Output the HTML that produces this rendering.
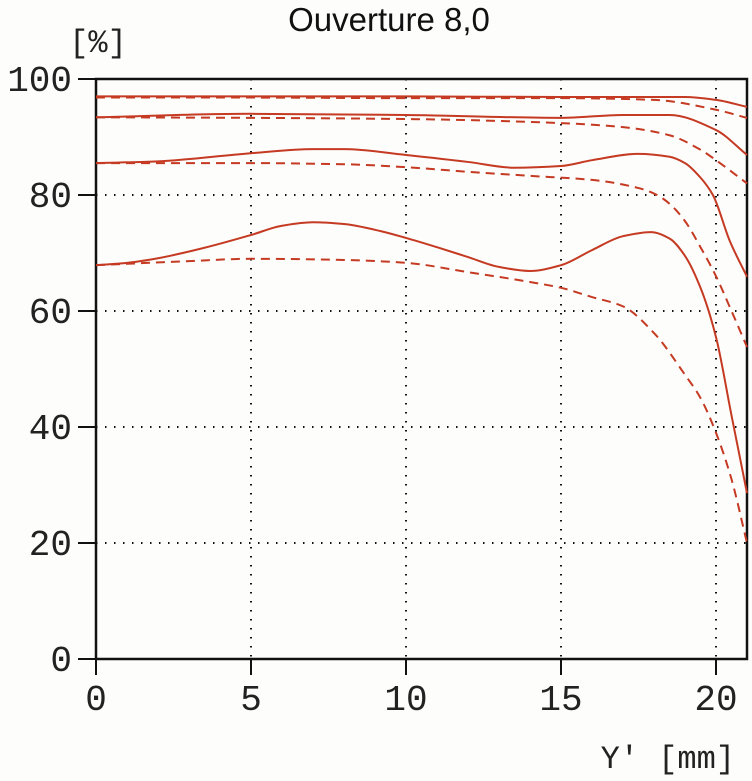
<!DOCTYPE html>
<html><head><meta charset="utf-8"><style>
html,body{margin:0;padding:0;background:#fdfdfb;}
svg{display:block;}
</style></head><body>
<svg id="chart" width="752" height="781" viewBox="0 0 752 781" xmlns="http://www.w3.org/2000/svg">
<rect width="752" height="781" fill="#fdfdfb"/>
<text x="389" y="31" text-anchor="middle" font-family="Liberation Sans, sans-serif" font-size="33" fill="#111">Ouverture 8,0</text>
<text x="98" y="52" text-anchor="middle" font-family="Liberation Mono, monospace" font-size="32" fill="#222">[%]</text>
<text x="735" y="768" text-anchor="end" font-family="Liberation Mono, monospace" font-size="32" fill="#222">Y' [mm]</text>
<g id="grid"></g><g id="axes"></g><g id="series"></g>
</svg>
<script>
const xTicks=[0,5,10,15,20];
const yTicks=[0,20,40,60,80,100];
const s1X=[0,5,10,15,19,20,21];
const s1Y=[97.0,97.0,97.0,96.9,96.9,96.4,95.2];
const d1X=[0,5,10,15,18,20,21];
const d1Y=[96.8,96.8,96.7,96.7,96.4,94.7,93.3];
const s2X=[0,5,10,15,17,18.5,20,21];
const s2Y=[93.4,94.0,93.8,93.3,93.8,93.8,91.2,86.9];
const d2X=[0,5,10,15,17,18.5,19.5,20,21];
const d2Y=[93.4,93.3,93.1,92.4,91.7,90.3,87.8,86.0,82.0];
const s3X=[0,2,5,7,8,10,12,13.5,15,16,17.5,18.5,19,19.5,19.9,20.45,21];
const s3Y=[85.5,85.8,87.2,87.9,87.9,86.9,85.7,84.7,85.0,86.0,87.1,86.6,85.5,83.0,80.0,72.0,65.9];
const d3X=[0,5,8,10,12,14,16,17.5,18.1,18.5,19,19.5,20,20.5,21];
const d3Y=[85.5,85.5,85.3,84.8,84.0,83.3,82.6,81.2,80.0,78.5,75.5,71.0,66.0,60.0,53.8];
const s4X=[0,1,2,3.5,5,6,7,8,9,10,11,12,13,14,15,16,17,17.9,18.5,19,19.5,20,20.5,21];
const s4Y=[67.9,68.3,69.1,70.9,73.1,74.7,75.3,75.0,74.0,72.6,71.0,69.3,67.6,66.9,67.9,70.5,72.9,73.6,72.5,69.5,64.0,55.5,42.0,28.6];
const d4X=[0,3,5,8,10,12,14,15,16,17,18,19,19.5,20,20.5,21];
const d4Y=[67.9,68.6,69.0,68.8,68.3,66.7,65.0,64.0,62.4,60.8,56.2,49.0,45.0,39.0,31.0,20.0];
const ns='http://www.w3.org/2000/svg';
const X=v=>96+v*31, Y=v=>659-v*5.8;
function mk(t,a,p){const e=document.createElementNS(ns,t);for(const k in a)e.setAttribute(k,a[k]);p.appendChild(e);return e;}
const grid=document.getElementById('grid'),axes=document.getElementById('axes'),ser=document.getElementById('series');
xTicks.forEach(t=>{
  if(t>0){const l=mk('line',{x1:X(t),x2:X(t),y1:Y(100),y2:Y(0),stroke:'#111','stroke-width':2,'stroke-dasharray':'1.5 7.5'},grid);
  
  }
  const tk=mk('line',{x1:X(t),x2:X(t),y1:659,y2:675,stroke:'#111','stroke-width':2},axes);
  
  
  const tx=mk('text',{x:X(t),y:710,'text-anchor':'middle','font-family':'Liberation Mono, monospace','font-size':36,fill:'#222'},axes);
  tx.textContent=t;
  
  
});
yTicks.forEach(t=>{
  if(t>0&&t<100){const l=mk('line',{x1:X(0),x2:X(21),y1:Y(t),y2:Y(t),stroke:'#111','stroke-width':2,'stroke-dasharray':'1.5 7.5'},grid);
  
  }
  const tk=mk('line',{x1:78,x2:96,y1:Y(t),y2:Y(t),stroke:'#111','stroke-width':2},axes);
  
  
  const tx=mk('text',{x:72,y:Y(t)+12,'text-anchor':'end','font-family':'Liberation Mono, monospace','font-size':36,fill:'#222'},axes);
  tx.textContent=t;
  
  
});
const fr=mk('path',{d:`M${X(0)},${Y(0)} V${Y(100)} H${X(21)} V${Y(0)} H${X(0)}`,fill:'none',stroke:'#111','stroke-width':2.5},axes);


// monotone cubic (Fritsch-Carlson) in pixel space
function path(xs,ys){
  const px=xs.map(X),py=ys.map(Y),n=px.length;
  const d=[],m=new Array(n);
  for(let i=0;i<n-1;i++)d.push((py[i+1]-py[i])/(px[i+1]-px[i]));
  m[0]=d[0];m[n-1]=d[n-2];
  for(let i=1;i<n-1;i++){
    if(d[i-1]*d[i]<=0)m[i]=0;
    else{const h0=px[i]-px[i-1],h1=px[i+1]-px[i];const w1=2*h1+h0,w2=h1+2*h0;m[i]=(w1+w2)/(w1/d[i-1]+w2/d[i]);}
  }
  let s=`M${px[0]},${py[0]}`;
  for(let i=0;i<n-1;i++){
    const h=(px[i+1]-px[i])/3;
    s+=` C${px[i]+h},${py[i]+m[i]*h} ${px[i+1]-h},${py[i+1]-m[i+1]*h} ${px[i+1]},${py[i+1]}`;
  }
  return s;
}
[[s1X,s1Y,0,'series-10lpmm-sagittal'],[d1X,d1Y,1,'series-10lpmm-tangential'],
 [s2X,s2Y,0,'series-20lpmm-sagittal'],[d2X,d2Y,1,'series-20lpmm-tangential'],
 [s3X,s3Y,0,'series-30lpmm-sagittal'],[d3X,d3Y,1,'series-30lpmm-tangential'],
 [s4X,s4Y,0,'series-40lpmm-sagittal'],[d4X,d4Y,1,'series-40lpmm-tangential']].forEach(([xs,ys,dash,name])=>{
  const a={d:path(xs,ys),fill:'none',stroke:'#c53a22','stroke-width':2};
  if(dash)a['stroke-dasharray']='9 6';
  const e=mk('path',a,ser);
  
  
});
</script>
</body></html>
